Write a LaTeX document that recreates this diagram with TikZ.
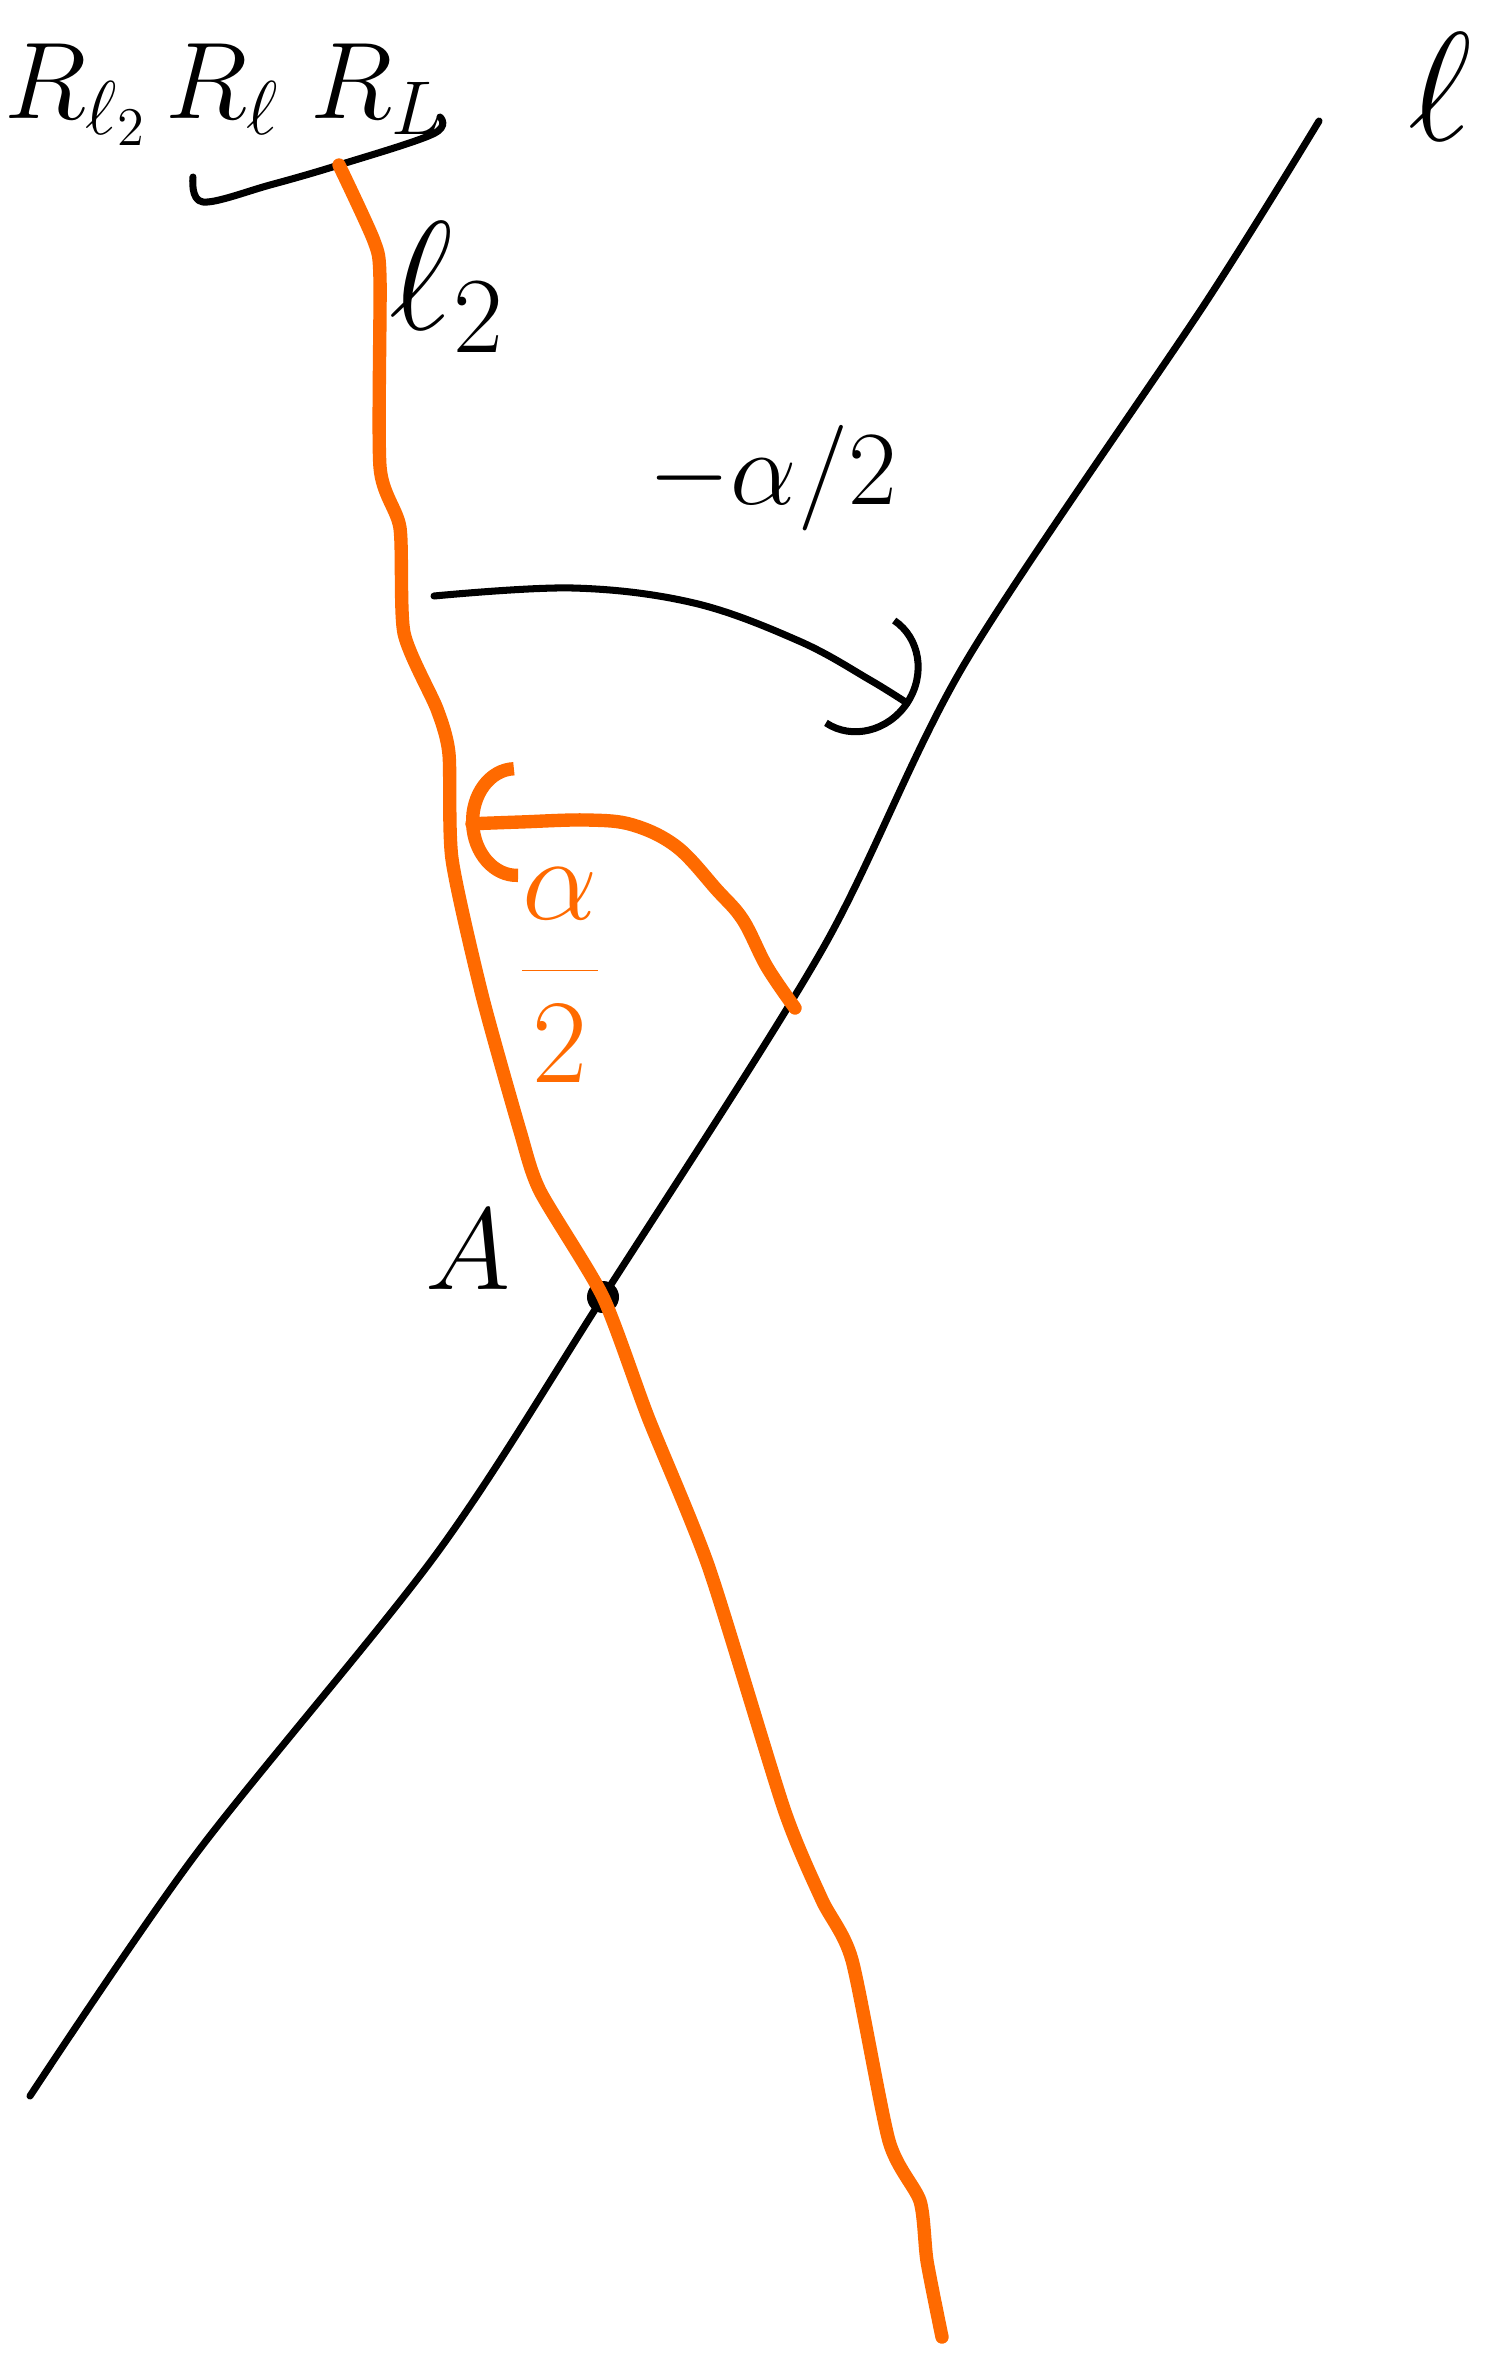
\RequirePackage{fix-cm}
\documentclass[tikz,border=0pt]{standalone}
\usepackage{xcolor}
\usepackage{tikz}
\usetikzlibrary{arrows.meta}
\definecolor{figOrange}{HTML}{FF6A00}

\begin{document}
\begin{tikzpicture}[
  x=0.01cm, y=-0.01cm,
  blk/.style={draw=black, line width=2pt, line cap=round, line join=round},
  org/.style={draw=figOrange, line width=3.8pt, line cap=round, line join=round},
  lbl/.style={inner sep=0pt, font=\fontsize{32}{38}\selectfont},
  big/.style={inner sep=0pt, font=\fontsize{44}{50}\selectfont},
  dot/.style={circle, fill=black, minimum size=0.32cm, inner sep=0pt},
  blkarr/.style={blk, -{Arc Barb[length=6mm, width=13mm]}},
  orgarr/.style={org, -{Arc Barb[length=5mm, width=12mm]}}
]
\useasboundingbox (0,0) rectangle (1485,2363);

% Product of reflections
\node[lbl, anchor=base west, font=\fontsize{31}{36}\selectfont] (prod) at (4,118) {$R_{\ell_2}\,R_\ell\;R_L$};
\coordinate (braceL) at (193,177);
\coordinate (braceM) at (339,165);
\coordinate (braceR) at (440,117);
\draw[blk] plot[smooth, tension=0.6] coordinates {(braceL) (203,202) (270,185) (braceM) (433,134) (braceR)};

% Intersection point
\node[dot] (A) at (603,1297) {};
\node[lbl, font=\fontsize{33}{38}\selectfont] (Alab) at (468,1250) {$A$};

% Line l
\coordinate (lS) at (30,2096);
\coordinate (lE) at (1319,121);
\draw[blk] plot[smooth, tension=0.5] coordinates {(lS) (196,1854) (437,1553) (A.center) (822,950) (965,663) (1206,302) (lE)};
\node[big] (lLab) at (1440,87) {$\ell$};

% Line l_2
\coordinate (mS) at (942,2337);
\draw[org] plot[smooth, tension=0.4] coordinates {(braceM) (374,241) (380,279) (380,467) (400,528) (404,633) (437,709) (449,754) (452,859) (482,995) (520,1131) (540,1191) (A.center) (648,1417) (709,1568) (784,1809) (822,1900) (852,1960) (889,2141) (920,2201) (927,2261) (mS)};
\node[big] (mLab) at (447,287) {$\ell_2$};

% Angle -alpha/2
\coordinate (bS) at (434,596);
\coordinate (bE) at (910,705);
\draw[blkarr] plot[smooth, tension=0.6] coordinates {(bS) (573,588) (694,603) (799,641) (870,680) (bE)};
\node[lbl, font=\fontsize{30}{36}\selectfont] (negLab) at (773,478) {$-\alpha/2$};

% Angle alpha/2
\coordinate (oS) at (795,1008);
\coordinate (oE) at (466,824);
\draw[orgarr] plot[smooth, tension=0.6] coordinates {(oS) (767,967) (743,920) (717,890) (677,847) (633,825) (587,820) (520,822) (oE)};
\node[lbl, text=figOrange, font=\fontsize{34}{40}\selectfont] (posLab) at (560,975) {$\displaystyle\frac{\alpha}{2}$};

\end{tikzpicture}
\end{document}
